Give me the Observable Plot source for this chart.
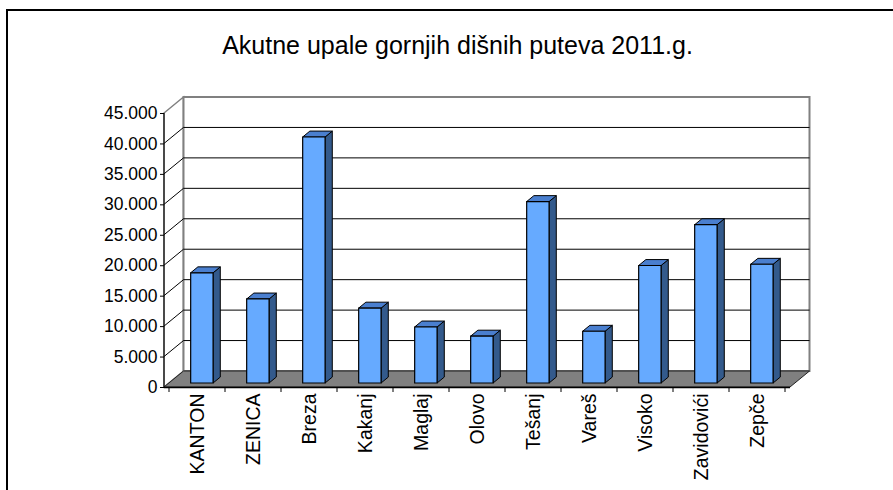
<!DOCTYPE html>
<html><head><meta charset="utf-8">
<script src="https://cdn.jsdelivr.net/npm/d3@7"></script>
<script src="https://cdn.jsdelivr.net/npm/@observablehq/plot@0.6"></script>
<style>body{margin:0;background:#fff} #chart svg{display:block}</style>
</head><body><div id="chart"></div>
<script>
const title = "Akutne upale gornjih dišnih puteva 2011.g.";
const categories = ["KANTON","ZENICA","Breza","Kakanj","Maglaj","Olovo","Tešanj","Vareš","Visoko","Zavidovići","Zepče"];
const values = [18100, 13800, 40400, 12300, 9200, 7700, 29800, 8500, 19300, 26000, 19500];
const yTicks = [0, 5000, 10000, 15000, 20000, 25000, 30000, 35000, 40000, 45000];

const data = categories.map((c, i) => ({c, v: values[i]}));
const fmt = d3.formatLocale({decimal: ",", thousands: ".", grouping: [3], currency: ["", ""]}).format(",");
const FONT = "'Liberation Sans', Arial, sans-serif";
const DX = 19.5, DY = 16;           // wall depth (px)
const BAR_FRONT = 0.25, BAR_DEPTH = 0.37, BAR_WIDTH = 0.4;
const yMax = yTicks[yTicks.length - 1];

function poly(g, pts, fill, stroke, sw) {
  g.append("path")
    .attr("d", "M" + pts.map(p => p.join(",")).join("L") + "Z")
    .attr("fill", fill).attr("stroke", stroke).attr("stroke-width", sw || 1)
    .attr("stroke-linejoin", "miter");
}
function line(g, a, b, stroke, sw) {
  g.append("line").attr("x1", a[0]).attr("y1", a[1]).attr("x2", b[0]).attr("y2", b[1])
    .attr("stroke", stroke).attr("stroke-width", sw || 1);
}

function scene(index, scales, vals, dim) {
  const {x, y} = scales;
  const bw = x.bandwidth();
  const x0 = dim.marginLeft, x1 = dim.width - dim.marginRight;
  const yb = y(0), yt = y(yMax);
  const g = d3.create("svg:g");
  // outer border
  g.append("rect").attr("x", 7).attr("y", 10).attr("width", dim.width).attr("height", dim.height)
    .attr("fill", "none").attr("stroke", "#000").attr("stroke-width", 2);
  // left wall
  poly(g, [[x0, yb], [x0, yt], [x0 + DX, yt - DY], [x0 + DX, yb - DY]], "#fff", "#808080", 1.5);
  // back wall
  poly(g, [[x0 + DX, yt - DY], [x1 + DX, yt - DY], [x1 + DX, yb - DY], [x0 + DX, yb - DY]], "#fff", "#808080", 2);
  // gridlines
  for (const t of yTicks) {
    if (t === 0 || t === yMax) continue;
    line(g, [x0 + DX, y(t) - DY], [x1 + DX, y(t) - DY], "#000", 1);
    line(g, [x0, y(t)], [x0 + DX, y(t) - DY], "#000", 1);
  }
  // floor
  poly(g, [[x0, yb], [x1, yb], [x1 + DX, yb - DY], [x0 + DX, yb - DY]], "#808080", "#222", 1);
  // front vertical axis line
  line(g, [x0, yt], [x0, yb], "#111", 1.2);
  // x axis line + ticks at band boundaries
  line(g, [x0, yb + 0.5], [x1, yb + 0.5], "#000", 1.5);
  const bounds = categories.map(c => x(c)).concat([x(categories[categories.length - 1]) + bw]);
  for (const bx of bounds) line(g, [bx, yb], [bx, yb + 5], "#000", 1);
  // bars
  for (const d of data) {
    const wid = bw * BAR_WIDTH;
    const bx = x(d.c) + (bw - wid) / 2 + BAR_FRONT * DX;
    const ybase = y(0) - BAR_FRONT * DY;
    const ytop = y(d.v) - BAR_FRONT * DY;
    const ddx = BAR_DEPTH * DX, ddy = BAR_DEPTH * DY;
    poly(g, [[bx + wid, ytop], [bx + wid + ddx, ytop - ddy], [bx + wid + ddx, ybase - ddy], [bx + wid, ybase]], "#335a8c", "#000", 1);
    poly(g, [[bx, ytop], [bx + wid, ytop], [bx + wid + ddx, ytop - ddy], [bx + ddx, ytop - ddy]], "#4a7fcf", "#000", 1);
    poly(g, [[bx, ytop], [bx + wid, ytop], [bx + wid, ybase], [bx, ybase]], "#66aaff", "#000", 1.2);
  }
  return g.node();
}

const chart = Plot.plot({
  width: 893,
  height: 490,
  marginLeft: 164,
  marginRight: 103,
  marginTop: 113,
  marginBottom: 103,
  style: {fontFamily: FONT, fontSize: "17.5px", background: "#fff", color: "#000"},
  x: {type: "band", domain: categories, padding: 0, axis: null},
  y: {domain: [0, yMax], axis: null},
  marks: [
    scene,
    Plot.axisY(yTicks, {tickSize: 4, tickPadding: 3, tickFormat: fmt, fontSize: 17.5, label: null, stroke: "#000"}),
    Plot.text(categories, {x: d => d, frameAnchor: "bottom", rotate: -90, textAnchor: "end", lineAnchor: "middle", dy: 6, fontSize: 19.5, fill: "#000"}),
    Plot.text([title], {frameAnchor: "top", lineAnchor: "middle", dx: -20, dy: -68, fontSize: 25, fill: "#000"})
  ]
});
document.getElementById("chart").appendChild(chart);
</script>
</body></html>
